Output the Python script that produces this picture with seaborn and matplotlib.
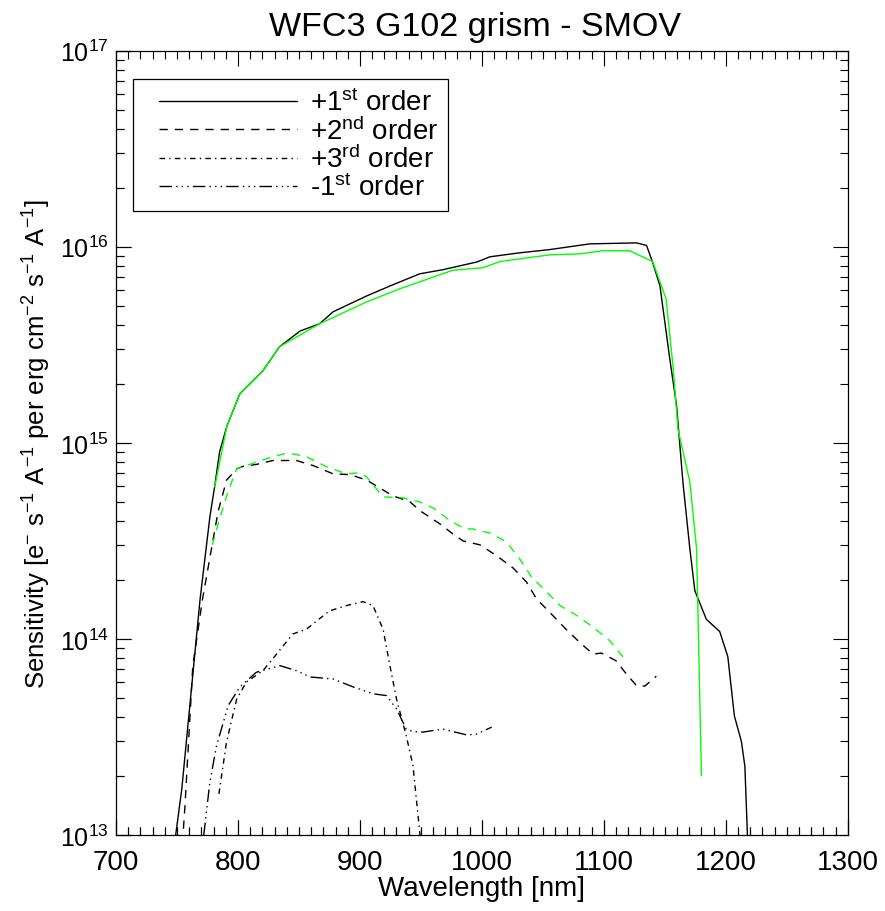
import matplotlib
matplotlib.use("Agg")
import matplotlib.pyplot as plt
import matplotlib.ticker as mticker
from matplotlib.legend_handler import HandlerLine2D
import seaborn as sns

# +1st order (black = ground calibration, green = SMOV)
wl_1st = [748, 754, 769, 777, 781, 785, 791, 801.6, 820.5, 834, 851, 867, 878, 905.7,
          924.6, 949, 968, 996, 1006.6, 1030, 1055.7, 1088.5, 1126.8, 1135, 1140, 1146,
          1154, 1159.6, 1164.8, 1170.5, 1174.6, 1184, 1195, 1201.6, 1207, 1212.8, 1215.6,
          1217.7, 1218]
sens_1st = [9.0e12, 1.72e13, 1.60e14, 4.19e14, 6.03e14, 9.0e14, 1.22e15, 1.78e15, 2.33e15,
            3.09e15, 3.72e15, 4.05e15, 4.66e15, 5.62e15, 6.31e15, 7.28e15, 7.64e15, 8.37e15,
            8.89e15, 9.30e15, 9.68e15, 1.035e16, 1.047e16, 1.016e16, 8.32e15, 6.31e15,
            2.69e15, 1.55e15, 6.31e14, 2.88e14, 1.76e14, 1.26e14, 1.09e14, 8.13e13, 4.05e13,
            2.99e13, 2.24e13, 1.0e13, 9.0e12]

wl_1st_smov = [781, 791, 801.6, 820.5, 834, 867, 905.7, 932.8, 976, 1000.8, 1014.8, 1055.7,
               1080, 1099, 1121, 1140, 1151, 1156.7, 1160.8, 1170.5, 1176, 1180]
sens_1st_smov = [5.97e14, 1.22e15, 1.78e15, 2.33e15, 3.09e15, 4.05e15, 5.24e15, 6.11e15,
                 7.59e15, 7.82e15, 8.41e15, 9.10e15, 9.20e15, 9.55e15, 9.55e15, 8.41e15,
                 5.43e15, 2.45e15, 1.17e15, 6.31e14, 2.88e14, 2.01e13]

# +2nd order
wl_2nd = [754.5, 756.6, 763, 771, 783.7, 790.7, 799, 804, 815, 828.7, 848, 861.7, 878,
          891.8, 905.5, 927, 941, 949, 965.6, 976, 984.6, 998.4, 1012, 1025.6, 1036.6,
          1044.8, 1058, 1069, 1080, 1091, 1098, 1110, 1118.6, 1126.8, 1133.6, 1143]
sens_2nd = [9.0e12, 1.41e13, 7.28e13, 1.60e14, 4.45e14, 6.46e14, 7.36e14, 7.59e14, 7.76e14,
            8.13e14, 8.13e14, 7.66e14, 6.95e14, 6.89e14, 6.46e14, 5.37e14, 5.01e14, 4.52e14,
            3.86e14, 3.44e14, 3.16e14, 3.02e14, 2.66e14, 2.30e14, 1.95e14, 1.60e14, 1.32e14,
            1.12e14, 9.64e13, 8.37e13, 8.47e13, 7.74e13, 6.61e13, 5.78e13, 5.75e13, 6.46e13]

wl_2nd_smov = [779, 785, 791.8, 799, 807, 828.7, 841, 856, 872.7, 889, 900, 905.5, 919, 935,
               949, 960, 973.8, 986, 992.6, 1006.6, 1020, 1031, 1040.7, 1053, 1064, 1077.6,
               1091, 1105, 1117]
sens_2nd_smov = [3.02e14, 4.09e14, 5.62e14, 7.36e14, 7.66e14, 8.51e14, 8.89e14, 8.51e14,
                 7.55e14, 6.95e14, 7.03e14, 6.71e14, 5.30e14, 5.25e14, 5.00e14, 4.66e14,
                 4.02e14, 3.64e14, 3.64e14, 3.47e14, 3.13e14, 2.56e14, 2.07e14, 1.74e14,
                 1.48e14, 1.32e14, 1.15e14, 9.77e13, 7.91e13]

# +3rd order
wl_3rd = [784.4, 790.7, 799, 807, 820.5, 831.7, 845, 856, 875, 889, 902.5, 910.7, 919,
          924.6, 930, 938, 943.5, 949, 950]
sens_3rd = [1.62e13, 2.99e13, 4.94e13, 6.03e13, 6.89e13, 8.37e13, 1.06e14, 1.12e14, 1.39e14,
            1.48e14, 1.55e14, 1.48e14, 1.12e14, 7.31e13, 4.94e13, 3.21e13, 2.26e13, 1.04e13,
            9.0e12]

# -1st order
wl_m1st = [772, 777, 782.5, 792, 801.6, 815, 834.4, 848, 859, 878, 894.6, 911, 921.9, 930,
           938, 943.5, 951.8, 968, 987.5, 995.6, 1008]
sens_m1st = [1.0e13, 1.86e13, 2.86e13, 4.57e13, 5.69e13, 6.76e13, 7.31e13, 6.89e13, 6.40e13,
             6.25e13, 5.69e13, 5.25e13, 5.14e13, 4.40e13, 3.47e13, 3.37e13, 3.35e13, 3.47e13,
             3.24e13, 3.27e13, 3.55e13]

legend_labels = ["+1$^{\\mathregular{st}}$ order", "+2$^{\\mathregular{nd}}$ order",
                 "+3$^{\\mathregular{rd}}$ order", "-1$^{\\mathregular{st}}$ order"]

sns.set_style("ticks")
plt.rcParams["font.family"] = ["Liberation Sans", "DejaVu Sans"]
plt.rcParams["mathtext.fontset"] = "custom"
plt.rcParams["mathtext.rm"] = "Liberation Sans"
plt.rcParams["mathtext.it"] = "Liberation Sans:italic"
plt.rcParams["mathtext.bf"] = "Liberation Sans:bold"
for k in ["text.color", "axes.labelcolor", "xtick.color", "ytick.color", "axes.edgecolor"]:
    plt.rcParams[k] = "black"
# IDL-like ticks: inside, on all four sides
for k in ["xtick.bottom", "xtick.top", "ytick.left", "ytick.right"]:
    plt.rcParams[k] = True
for a in ["xtick", "ytick"]:
    plt.rcParams[a + ".direction"] = "in"
    plt.rcParams[a + ".major.size"] = 10.8
    plt.rcParams[a + ".minor.size"] = 5.8
    plt.rcParams[a + ".major.width"] = 0.8
    plt.rcParams[a + ".minor.width"] = 0.8
plt.rcParams["xtick.major.pad"] = 10
plt.rcParams["ytick.major.pad"] = 5
plt.rcParams["xtick.labelsize"] = 20
plt.rcParams["ytick.labelsize"] = 18
plt.rcParams["axes.linewidth"] = 0.9

GREEN = "#00ff00"
DASH = (0, (6, 5))
DASHDOT = (0, (4, 3, 1, 3))
DASHDOT3 = (0, (9, 3, 1, 3, 1, 3, 1, 3))

AX_POS = [0.131, 0.0833, 0.827, 0.860]
XLIM = (700, 1300)
YLIM = (1e13, 1e17)

fig = plt.figure(figsize=(8.85, 9.12), dpi=100)
ax = fig.add_axes(AX_POS)

series = [
    (wl_1st, sens_1st, "black", "-", legend_labels[0]),
    (wl_2nd, sens_2nd, "black", DASH, legend_labels[1]),
    (wl_3rd, sens_3rd, "black", DASHDOT, legend_labels[2]),
    (wl_m1st, sens_m1st, "black", DASHDOT3, legend_labels[3]),
    (wl_1st_smov, sens_1st_smov, GREEN, "-", None),
    (wl_2nd_smov, sens_2nd_smov, GREEN, DASH, None),
]
handles = []
for wl, sens, col, ls, lab in series:
    sns.lineplot(x=wl, y=sens, ax=ax, color=col, linestyle=ls, linewidth=1.0,
                 sort=False, estimator=None)
    if lab is not None:
        handles.append(ax.lines[-1])

ax.set_yscale("log")
ax.set_xlim(*XLIM)
ax.set_ylim(*YLIM)
ax.xaxis.set_major_locator(mticker.MultipleLocator(100))
ax.xaxis.set_minor_locator(mticker.MultipleLocator(10))
ax.yaxis.set_major_formatter(mticker.LogFormatterMathtext())
ax.yaxis.set_minor_formatter(mticker.NullFormatter())
ax.tick_params(which="both", direction="in", bottom=True, left=True, top=True, right=True)

ax.set_title("WFC3 G102 grism - SMOV", fontsize=24.5, pad=11, x=0.49)
ax.set_xlabel("Wavelength [nm]", fontsize=20, labelpad=0)
ax.set_ylabel("Sensitivity [e$^{\\mathregular{-}}$ s$^{\\mathregular{-1}}$ A$^{\\mathregular{-1}}$ "
              "per erg cm$^{\\mathregular{-2}}$ s$^{\\mathregular{-1}}$ A$^{\\mathregular{-1}}$]",
              fontsize=18.5, labelpad=5)

leg = ax.legend(handles, legend_labels, loc="upper left", bbox_to_anchor=(0.023, 0.964),
                borderaxespad=0, fontsize=20, handlelength=5.56, handletextpad=0.47,
                labelspacing=0.0, borderpad=0.35, fancybox=False, framealpha=1,
                edgecolor="black", handler_map={h: HandlerLine2D(xpad=0.6) for h in handles})
leg.get_frame().set_linewidth(0.9)

# bottom / left inward ticks: thin tick-only axes glued to the outside of the frame,
# whose top/right ticks point outward, i.e. into the plot
eps = 0.002
axb = fig.add_axes([AX_POS[0], AX_POS[1] - eps, AX_POS[2], eps], frameon=False)
axb.set_xlim(*XLIM)
axb.xaxis.set_major_locator(mticker.MultipleLocator(100))
axb.xaxis.set_minor_locator(mticker.MultipleLocator(10))
axb.set_yticks([])
axb.tick_params(which="both", direction="out", bottom=False, labelbottom=False,
                top=True, labeltop=False, left=False, right=False)

axl = fig.add_axes([AX_POS[0] - eps, AX_POS[1], eps, AX_POS[3]], frameon=False)
axl.set_yscale("log")
axl.set_ylim(*YLIM)
axl.yaxis.set_minor_locator(mticker.LogLocator(base=10, subs=range(2, 10), numticks=10))
axl.set_xticks([])
axl.tick_params(which="both", direction="out", left=False, labelleft=False,
                right=True, labelright=False, bottom=False, top=False)

fig.savefig("out.png", dpi=100)
